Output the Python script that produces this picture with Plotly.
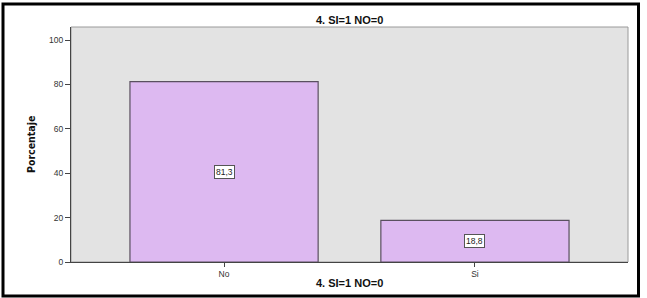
import plotly.graph_objects as go

categories = ["No", "Si"]
percentages = [81.3, 18.8]
value_labels = ["81,3", "18,8"]
y_ticks = [0, 20, 40, 60, 80, 100]
title_text = "4. SI=1 NO=0"
y_title = "Porcentaje"

W, H = 647, 298
L, R, T, B = 71, 628, 27, 262

def px(x):
    return (x - L) / (R - L)

def py(y):
    return (B - y) / (B - T)

fig = go.Figure()
fig.add_trace(go.Bar(
    x=categories, y=percentages, width=0.75,
    marker=dict(color="#DDB9F1", line=dict(color="#5a5060", width=1.2)),
    hoverinfo="skip",
))

for c, v, lab in zip(categories, percentages, value_labels):
    fig.add_annotation(x=c, y=v / 2, text=lab, showarrow=False,
                       font=dict(family="Liberation Sans, Arial", size=8.5, color="#222"),
                       bgcolor="white", bordercolor="#555", borderwidth=1, borderpad=1)

fig.add_annotation(x=0.5, y=py(20), xref="paper", yref="paper", text="<b>" + title_text + "</b>",
                   showarrow=False, yanchor="middle",
                   font=dict(family="Liberation Sans, Arial", size=11, color="#111"))
fig.add_annotation(x=0.5, y=py(283), xref="paper", yref="paper", text="<b>" + title_text + "</b>",
                   showarrow=False, yanchor="middle",
                   font=dict(family="Liberation Sans, Arial", size=11, color="#111"))
fig.add_annotation(x=px(31), y=py(145), xref="paper", yref="paper", text="<b>" + y_title + "</b>",
                   showarrow=False, textangle=-90, xanchor="center", yanchor="middle",
                   font=dict(family="DejaVu Sans Condensed, Liberation Sans Narrow, Arial Narrow", size=10.5, color="#111"))

# plot-area border (top/right gray)
fig.add_shape(type="rect", xref="paper", yref="paper", x0=0, x1=1, y0=0, y1=1,
              line=dict(color="#9a9a9a", width=1), layer="below")
# outer black frame
fig.add_shape(type="rect", xref="paper", yref="paper",
              x0=px(3), x1=px(638.5), y0=py(296), y1=py(4),
              line=dict(color="black", width=3))

fig.update_layout(
    width=W, height=H,
    margin=dict(l=L, r=W - R, t=T, b=H - B, pad=0),
    paper_bgcolor="white", plot_bgcolor="#E3E3E3",
    showlegend=False,
    font=dict(family="Liberation Sans, Arial", size=8, color="#333"),
    xaxis=dict(range=[-0.61, 1.61], showgrid=False, zeroline=False,
               showline=True, linecolor="#444", linewidth=1,
               ticks="outside", ticklen=4, tickcolor="#444",
               tickfont=dict(size=8.5, color="#333")),
    yaxis=dict(range=[0, 105.9], tickvals=y_ticks, showgrid=False, zeroline=False,
               showline=True, linecolor="#444", linewidth=1,
               ticks="outside", ticklen=5, tickcolor="#444",
               tickfont=dict(size=8.5, color="#333")),
)

fig.write_html("out.html")
